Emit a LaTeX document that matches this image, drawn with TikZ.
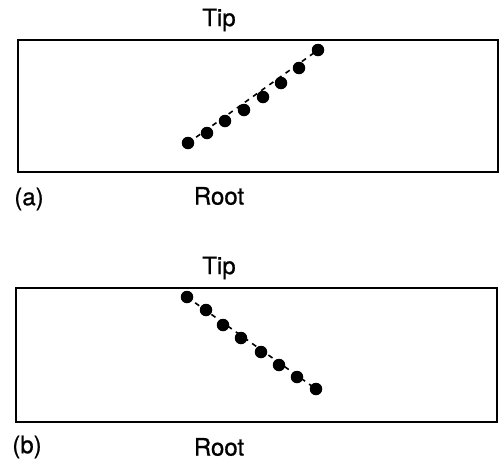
\documentclass[tikz,border=0pt]{standalone}
\usepackage{fontspec}
\setmainfont{TeX Gyre Heros}[FakeBold=0.8]
\begin{document}
\begin{tikzpicture}[x=1pt,y=-1pt,
  frame/.style={draw=black,line width=2pt},
  bead/.style={circle,fill=black,inner sep=0pt,minimum size=12.5pt},
  chain/.style={line width=1.6pt,dash pattern=on 5pt off 5pt},
  lbl/.style={font=\fontsize{24}{28}\selectfont,inner sep=0pt}]
\useasboundingbox (0,0) rectangle (499,461);

% panel (a): beads rising from root to tip
\draw[frame] (18,40) rectangle (498,172);
\node[lbl] (tipa) at (219,20) {Tip};
\node[lbl] (roota) at (219,196) {Root};
\node[lbl] (laba) at (29,199) {(a)};
\foreach \i/\x/\y in {1/188/143,2/207/133,3/225/121,4/244/110,5/263/97,6/281/83,7/299/68,8/318/50}
  \node[bead] (a\i) at (\x,\y) {};
\draw[chain] (a1.center) -- (a8.center);

% panel (b): beads falling from tip to root
\draw[frame] (16,288) rectangle (497,422);
\node[lbl] (tipb) at (219,268) {Tip};
\node[lbl] (rootb) at (219,447) {Root};
\node[lbl] (labb) at (27,447) {(b)};
\foreach \i/\x/\y in {1/187/297,2/206/310,3/223/325,4/241/338,5/261/352,6/279/365,7/297/377,8/316/389}
  \node[bead] (b\i) at (\x,\y) {};
\draw[chain] (b1.center) -- (b8.center);
\end{tikzpicture}
\end{document}
